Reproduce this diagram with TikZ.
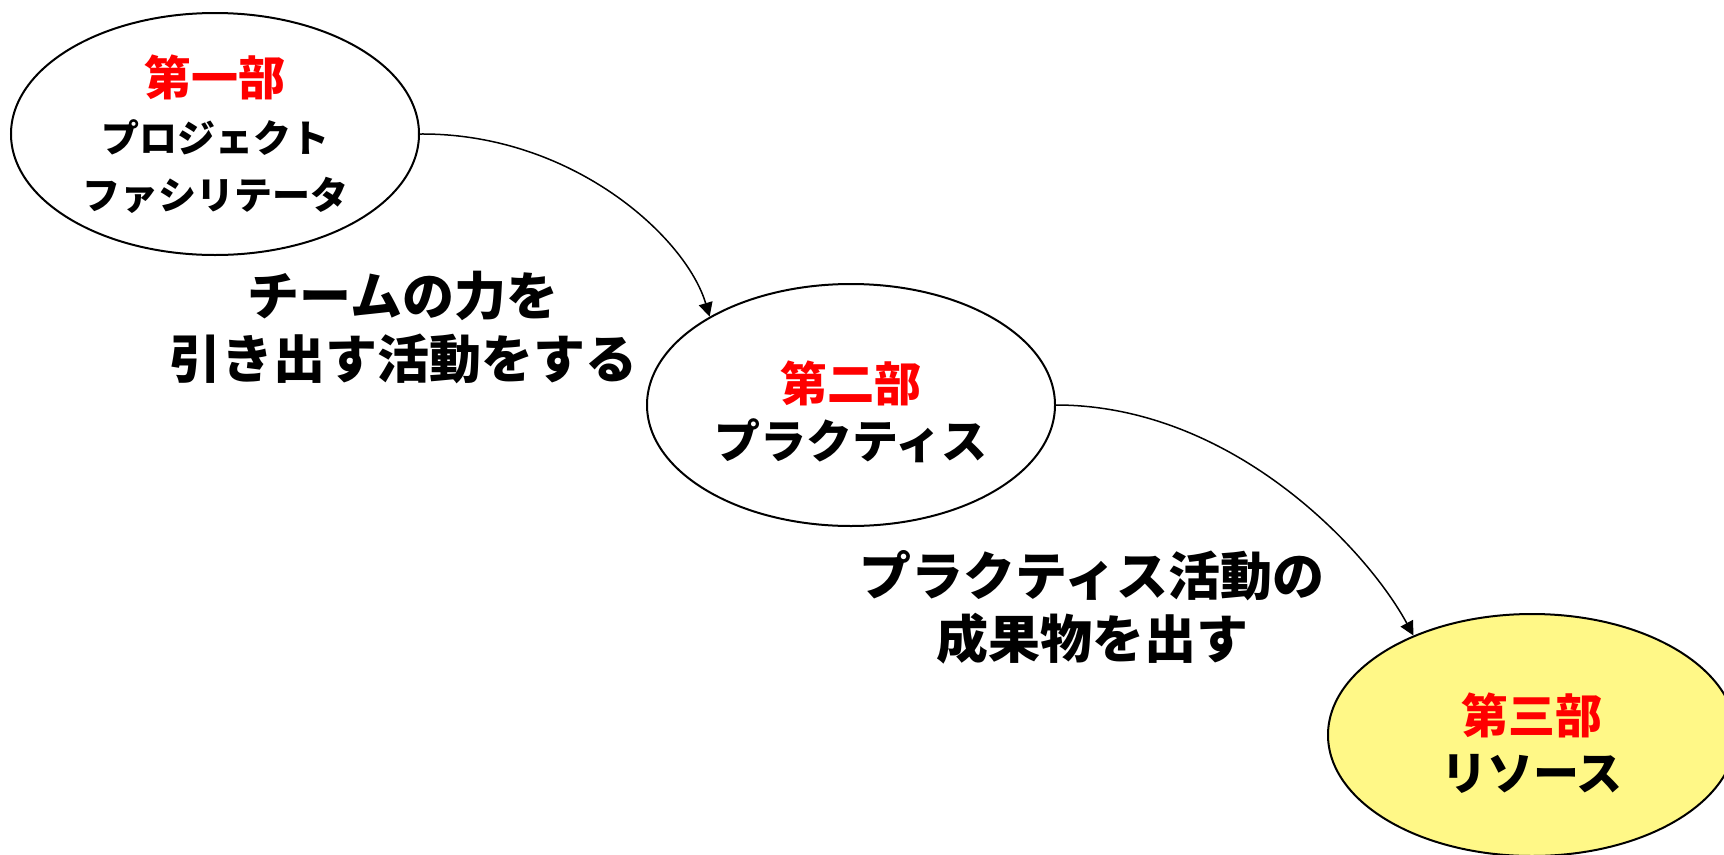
\documentclass[tikz,border=0pt]{standalone}
\usepackage{fontspec}
\newfontfamily\cjk{Noto Sans CJK JP}[UprightFont={* Black}]
\usetikzlibrary{arrows.meta,shapes.geometric}
\definecolor{partred}{RGB}{255,0,0}
\definecolor{resyellow}{RGB}{255,248,135}
\tikzset{
  part/.style={ellipse, draw=black, line width=2pt, minimum width=408pt, minimum height=242pt, inner sep=0pt, align=center, font=\cjk\fontsize{47}{57}\selectfont},
  flow/.style={-{Triangle[length=14pt,width=14pt]}, line width=1.5pt},
  lbl/.style={align=center, font=\cjk\fontsize{52}{63}\selectfont, inner sep=0pt}
}
\begin{document}
\begin{tikzpicture}[x=1pt,y=-1pt]
\useasboundingbox (0,0) rectangle (1724,854);
\node[part] (p1) at (215,134) {{\color{partred}第一部}\\{\fontsize{38}{57}\selectfont プロジェクト}\\{\fontsize{38}{57}\selectfont ファシリテータ}};
\node[part] (p2) at (851,405) {\rule{0pt}{55pt}{\color{partred}第二部}\\{\fontsize{46}{57}\selectfont プラクティス}};
\node[part, fill=resyellow] (p3) at (1532,735) {\rule{0pt}{57pt}{\color{partred}第三部}\\{\fontsize{46}{57}\selectfont リソース}};
\node[lbl] (l1) at (403,328) {チームの力を\\引き出す活動をする};
\node[lbl] (l2) at (1092,607) {プラクティス活動の\\成果物を出す};
\draw[flow] (p1.east) .. controls (572,133) and (686,237) .. (p2.148.6);
\draw[flow] (p2.east) .. controls (1231,405) and (1366,548) .. (p3.140);
\end{tikzpicture}
\end{document}
